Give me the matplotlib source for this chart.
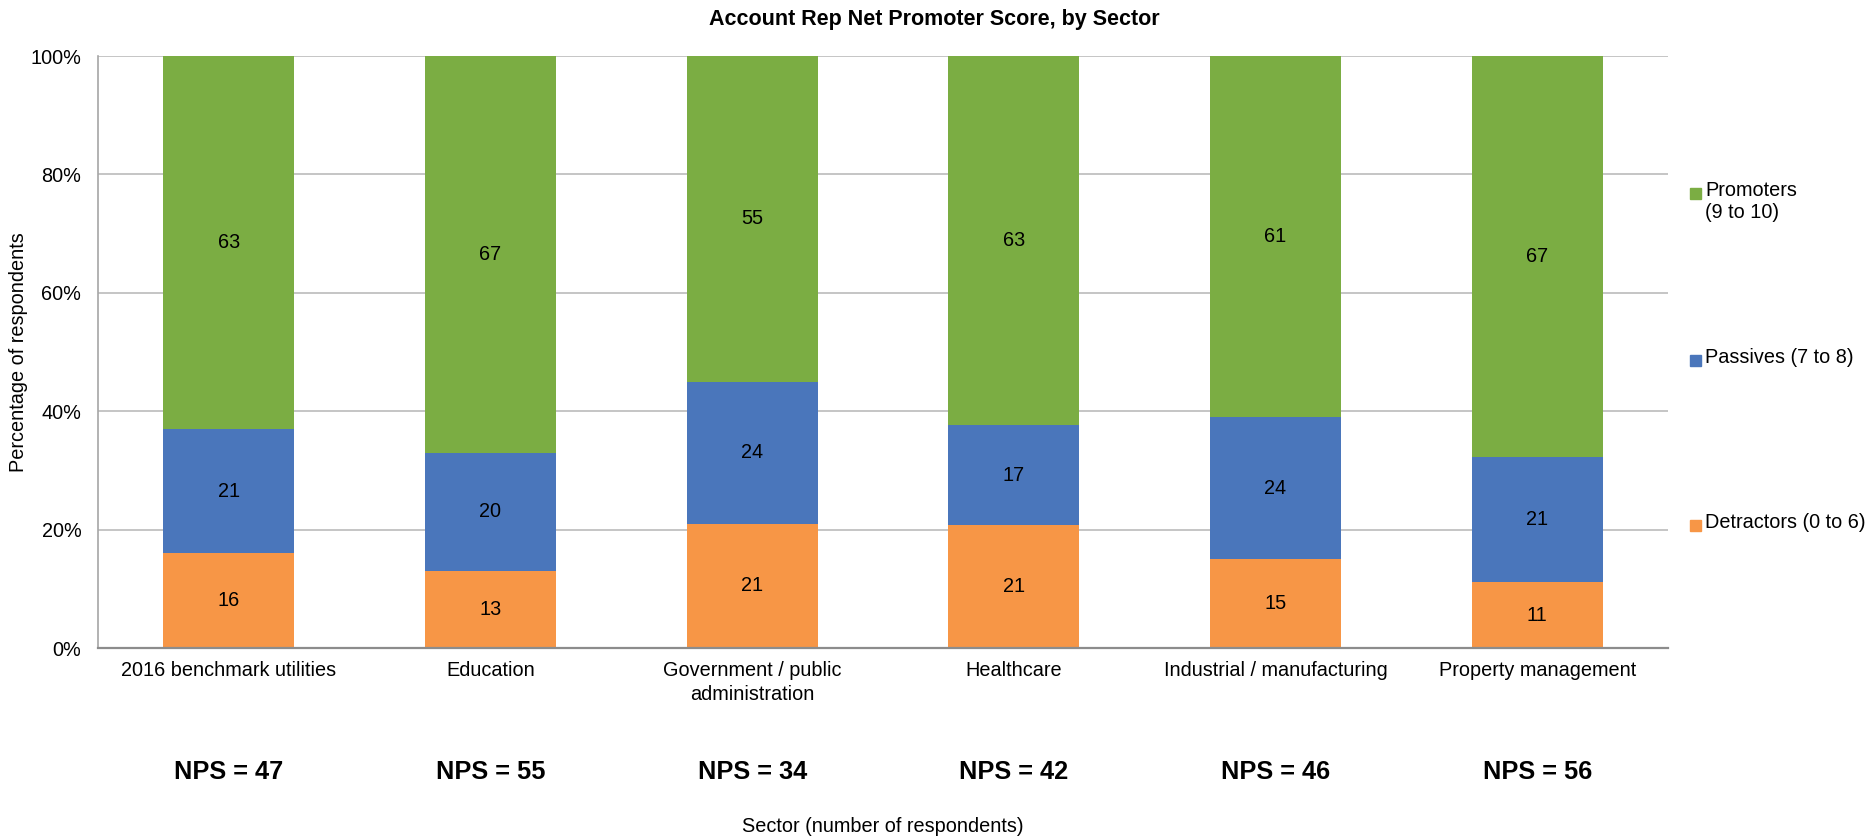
import matplotlib.pyplot as plt
import numpy as np
from matplotlib.patches import Rectangle

plt.rc("font", family=["Liberation Sans", "DejaVu Sans"])

sectors = [
    "2016 benchmark utilities",
    "Education",
    "Government / public\nadministration",
    "Healthcare",
    "Industrial / manufacturing",
    "Property management",
]
detractors = [16, 13, 21, 21, 15, 11]
passives = [21, 20, 24, 17, 24, 21]
promoters = [63, 67, 55, 63, 61, 67]
nps = [47, 55, 34, 42, 46, 56]

series_names = ["Detractors (0 to 6)", "Passives (7 to 8)", "Promoters\n(9 to 10)"]
series_colors = ["#f79646", "#4a76bb", "#7bad43"]

FS = 14.3

W, H = 1868, 839
fig = plt.figure(figsize=(W / 100, H / 100), dpi=100)
# axes box in pixels: left, right, top, bottom
L, R, T, B = 98, 1668, 56, 648
ax = fig.add_axes([L / W, 1 - B / H, (R - L) / W, (B - T) / H])

values = np.array([detractors, passives, promoters], dtype=float)
shares = values / values.sum(axis=0) * 100  # 100% stacked
x = np.arange(len(sectors))
bottom = np.zeros(len(sectors))
for vals, share, color in zip(values, shares, series_colors):
    ax.bar(x, share, 0.5, bottom=bottom, color=color, zorder=3)
    for xi, b, s, v in zip(x, bottom, share, vals):
        ax.text(xi, b + s / 2, f"{v:.0f}", ha="center", va="center",
                fontsize=FS, color="black", zorder=4)
    bottom += share

ax.set_xlim(-0.5, len(sectors) - 0.5)
ax.set_ylim(0, 100)
ax.set_yticks(np.arange(0, 101, 20))
ax.set_yticklabels([f"{v}%" for v in range(0, 101, 20)], fontsize=FS)
ax.yaxis.grid(True, color="#c0c0c0", lw=1.3, zorder=0)
ax.tick_params(axis="y", length=0, pad=12)
ax.tick_params(axis="x", length=0, pad=9)
ax.set_xticks(x)
ax.set_xticklabels(sectors, fontsize=FS, linespacing=1.35)
for side in ("top", "right"):
    ax.spines[side].set_visible(False)
ax.spines["left"].set_color("#a6a6a6")
ax.spines["left"].set_linewidth(1.2)
ax.spines["bottom"].set_color("#8c8c8c")
ax.spines["bottom"].set_linewidth(1.6)
ax.spines["bottom"].set_zorder(5)

ax.set_ylabel("Percentage of respondents", fontsize=FS)
ax.yaxis.set_label_coords((28 - L) / (R - L), 0.5)

fig.text(934 / W, 1 - 20 / H, "Account Rep Net Promoter Score, by Sector",
         ha="center", va="center", fontsize=15.5, fontweight="bold")

# NPS per sector under the category labels
for xi, score in zip(x, nps):
    px = L + (xi + 0.5) / len(sectors) * (R - L)
    fig.text(px / W, 1 - 772 / H, f"NPS = {score}", ha="center", va="center",
             fontsize=18.3, fontweight="bold")

fig.text((L + R) / 2 / W, 1 - 827 / H, "Sector (number of respondents)",
         ha="center", va="center", fontsize=FS)

# legend, top entry first
legend_y = [193, 360, 525]
for name, color, py in zip(series_names[::-1], series_colors[::-1], legend_y):
    fig.patches.append(Rectangle((1690 / W, 1 - (py + 6) / H), 11 / W, 11 / H,
                                 transform=fig.transFigure, color=color))
    fig.text(1705 / W, 1 - (py - 12) / H, name, ha="left", va="top",
             fontsize=FS, linespacing=1.2)

fig.savefig("out.png", dpi=100)
